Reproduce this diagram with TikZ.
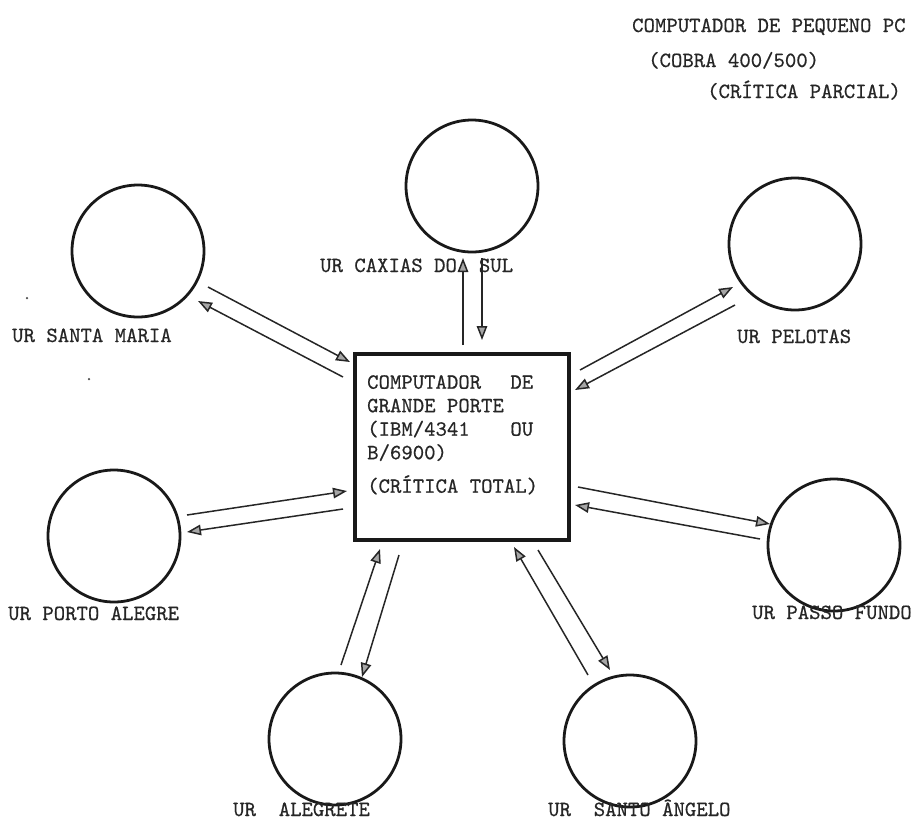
\documentclass[tikz,border=0pt]{standalone}
\usepackage{fontspec}
\setmonofont[FakeBold=0.6]{lmmono10-regular.otf}
\usetikzlibrary{arrows.meta}
\begin{document}
\begin{tikzpicture}[x=1pt,y=-1pt,
  unit/.style={circle, draw=black!90, line width=2.8pt, minimum size=132pt, inner sep=0pt},
  hubbox/.style={rectangle, draw=black!90, line width=3.6pt, minimum width=214pt, minimum height=186pt, inner sep=0pt},
  lbl/.style={anchor=base west, inner sep=0pt, text=black!85, font=\ttfamily\fontsize{21.7}{23.5}\selectfont},
  flow/.style={line width=1.5pt, draw=black!85, -{Triangle[length=14pt,width=10.5pt,fill=black!35]}},
  speck/.style={circle, fill=black!70, inner sep=0pt, minimum size=2.5pt},
]
\useasboundingbox (0,0) rectangle (913,823);

% heading for the small computer
\node[lbl] (small1) at (632,32) {COMPUTADOR DE PEQUENO PC};
\node[lbl] (small2) at (648,67) {(COBRA 400/500)};
\node[lbl] (small3) at (707,98) {(CRÍTICA PARCIAL)};

% central mainframe
\node[hubbox] (hub) at (462,447) {};
\node[lbl, anchor=north west, align=left] (hubtext) at (367,375)
  {\makebox[166pt][s]{COMPUTADOR\hfill DE}\\
   GRANDE PORTE\\
   \makebox[166pt][s]{(IBM/4341\hfill OU}\\
   B/6900)\\[10pt]
   (CRÍTICA TOTAL)};

% regional units
\node[unit] (cax) at (472,186) {};
\node[unit] (smr) at (138,251) {};
\node[unit] (pel) at (795,244) {};
\node[unit] (poa) at (114,536) {};
\node[unit] (pfu) at (834,545) {};
\node[unit] (ale) at (335,739) {};
\node[unit] (san) at (630,741) {};

\node[lbl] (caxl) at (320,272) {UR CAXIAS DO\hspace{22pt}SUL};
\node[lbl] (smrl) at (12,342) {UR SANTA MARIA};
\node[lbl] (pell) at (737,343) {UR PELOTAS};
\node[lbl] (poal) at (8,620) {UR PORTO ALEGRE};
\node[lbl] (pful) at (752,619) {UR PASSO FUNDO};
\node[lbl] (alel) at (233,816) {UR\ \ ALEGRETE};
\node[lbl] (sanl) at (548,816) {UR\ \ SANTO ÂNGELO};

% arrow end points
\coordinate (caxA) at (463,345); \coordinate (caxB) at (463,258);
\coordinate (caxC) at (482,258); \coordinate (caxD) at (482,340);
\coordinate (smrA) at (208,287); \coordinate (smrB) at (350,362);
\coordinate (smrC) at (343,377); \coordinate (smrD) at (198,301);
\coordinate (pelA) at (580,370); \coordinate (pelB) at (733,287);
\coordinate (pelC) at (735,305); \coordinate (pelD) at (575,390);
\coordinate (poaA) at (187,515); \coordinate (poaB) at (347,491);
\coordinate (poaC) at (343,509); \coordinate (poaD) at (187,532);
\coordinate (pfuA) at (578,487); \coordinate (pfuB) at (770,524);
\coordinate (pfuC) at (760,539); \coordinate (pfuD) at (575,505);
\coordinate (aleA) at (341,665); \coordinate (aleB) at (380,549);
\coordinate (aleC) at (399,555); \coordinate (aleD) at (362,677);
\coordinate (sanA) at (588,675); \coordinate (sanB) at (514,547);
\coordinate (sanC) at (538,550); \coordinate (sanD) at (610,670);

% data flows between units and the mainframe
\foreach \u in {cax,smr,pel,poa,pfu,ale,san}{
  \draw[flow] (\u A) -- (\u B);
  \draw[flow] (\u C) -- (\u D);
}

% stray marks
\node[speck] (dot1) at (27,298) {};
\node[speck] (dot2) at (89,379) {};
\end{tikzpicture}
\end{document}
